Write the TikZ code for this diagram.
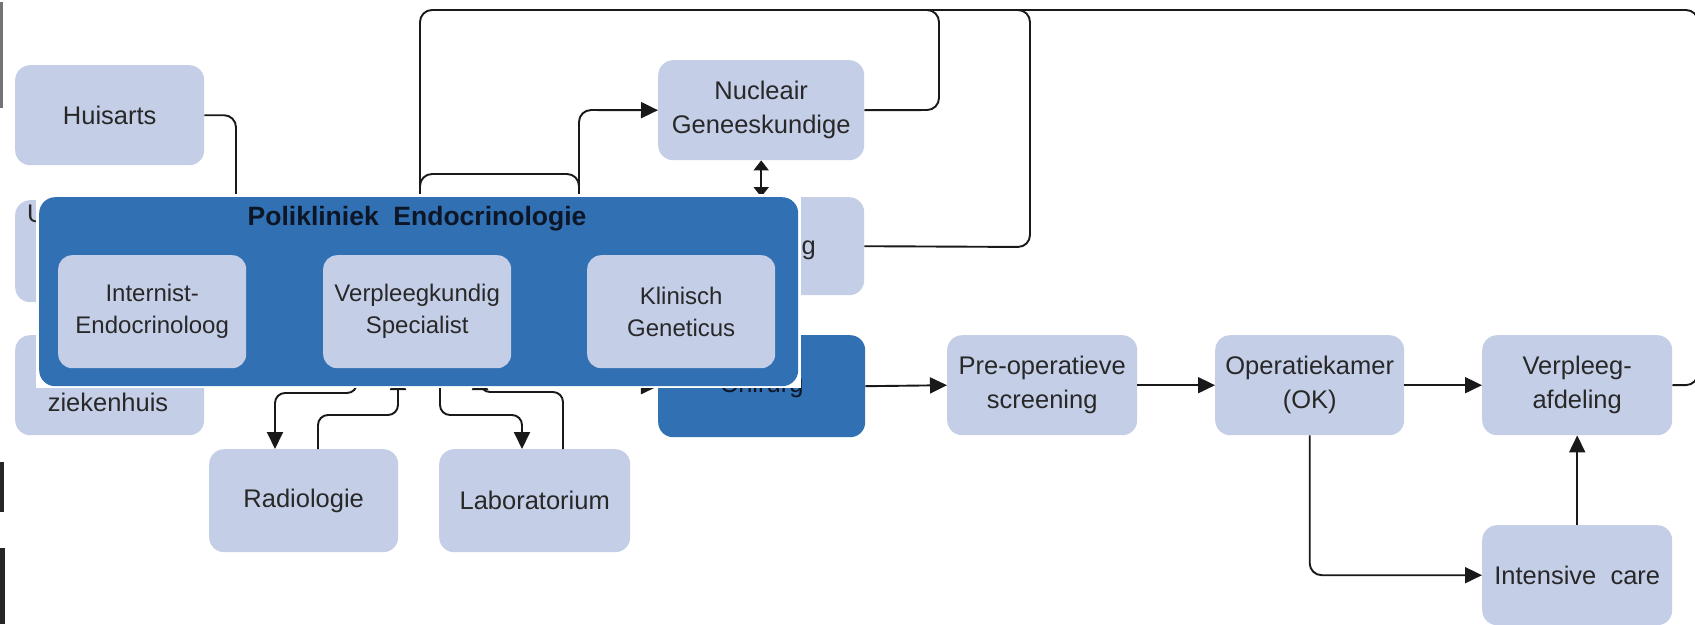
\documentclass[tikz,border=0pt]{standalone}
\usepackage{fontspec}
\setmainfont{Liberation Sans}
\usetikzlibrary{arrows.meta}
\pgfdeclarelayer{fg}
\pgfsetlayers{main,fg}
\definecolor{lightbox}{RGB}{196,206,231}
\definecolor{darkbox}{RGB}{49,112,178}
\definecolor{txt}{RGB}{40,40,40}
\definecolor{titletxt}{RGB}{12,22,38}
\definecolor{wire}{RGB}{25,25,25}
\begin{document}
\begin{tikzpicture}[x=1pt,y=-1pt,
  bsize/.style 2 args={anchor=north west, minimum width=#1pt, minimum height=#2pt, inner sep=0pt},
  lbox/.style={fill=lightbox, rounded corners=15pt, text=txt, align=center, font=\fontsize{25.5}{34}\selectfont},
  ibox/.style={fill=lightbox, rounded corners=14pt, text=txt, align=center, font=\fontsize{24}{32}\selectfont},
  dbox/.style={fill=darkbox, rounded corners=15pt, text=titletxt, align=center, font=\fontsize{25.5}{34}\selectfont},
  frag/.style={inner sep=0pt, text=txt, font=\fontsize{25.5}{34}\selectfont},
  wire/.style={draw=wire, line width=1.9pt, rounded corners=12pt},
  arr/.style={-{Triangle[length=17pt,width=16pt]}},
  darr/.style={{Triangle[length=10pt,width=15pt]}-{Triangle[length=10pt,width=15pt]}}
]
\clip (0,0) rectangle (1695,624);
\fill[white] (0,0) rectangle (1695,624);

% scan fragments at the left edge
\fill[black!55] (0,2) rectangle (3,108);
\fill[black!85] (0,462) rectangle (4,512);
\fill[black!85] (0,548) rectangle (5,624);

% foreground: Polikliniek panel
\begin{pgfonlayer}{fg}
  \fill[white] (36,194) rectangle (801,388);
  \node[fill=darkbox, rounded corners=16pt, bsize={759}{189}] (pk) at (39,197) {};
  \node[anchor=base, inner sep=0pt, text=titletxt, font=\fontsize{26.5}{30}\selectfont\bfseries] (pkt) at (417,225) {Polikliniek\ \ Endocrinologie};
  \node[ibox, bsize={188}{113}] (ie) at (58,255) {Internist-\\Endocrinoloog};
  \node[ibox, bsize={188}{113}] (vs) at (323,255) {Verpleegkundig\\Specialist};
  \node[ibox, bsize={188}{113}] (kg) at (587,255) {Klinisch\\Geneticus};
\end{pgfonlayer}

% outer boxes
\node[lbox, bsize={189}{100}] (hu) at (15,65) {Huisarts};
\node[lbox, bsize={189}{102}] (um) at (15,200) {};
\node[frag, anchor=base west] (umt) at (27,222) {U};
\node[lbox, bsize={189}{100}] (zh) at (15,335) {};
\node[frag, anchor=base] (zht) at (108,411) {ziekenhuis};
\node[lbox, bsize={206}{100}] (ng) at (658,60) {Nucleair\\Geneeskundige};
\node[lbox, bsize={206}{98}] (bh) at (658,197) {};
\node[frag, anchor=base east] (bht) at (816,254) {g};
\node[dbox, bsize={207}{102}] (ch) at (658,335) {Chirurg};
\node[lbox, bsize={190}{100}] (po) at (947,335) {Pre-operatieve\\screening};
\node[lbox, bsize={189}{100}] (ok) at (1215,335) {Operatiekamer\\(OK)};
\node[lbox, bsize={190}{100}] (vp) at (1482,335) {Verpleeg-\\afdeling};
\node[lbox, bsize={190}{100}] (ic) at (1482,525) {Intensive\ \ care};
\node[lbox, bsize={189}{103}] (ra) at (209,449) {Radiologie};
\node[lbox, bsize={191}{103}] (la) at (439,449) {Laboratorium};

% touch points on the Polikliniek panel
\coordinate (pHu) at (236,197);
\coordinate (pTop) at (420,197);
\coordinate (pNg) at (579,197);
\coordinate (pCh) at (620,386);
\coordinate (pRa1) at (357,380);
\coordinate (pRa2) at (398,373);
\coordinate (pLa1) at (440,380);
\coordinate (pLa2) at (480,373);

% connectors above
\draw[wire] (hu.east) -| (pHu);
\draw[wire] (vp.east) -- (1698,385) -- (1698,10) -- (420,10) -- (pTop);
\draw[wire] (ng.east) -- (939,110) -- (939,10) -- (880,10);
\draw[wire] (bh.east) -- (1030,247) -- (1030,10) -- (960,10);
\draw[wire] (pTop) -- (420,174) -- (579,174) -- (pNg);
\draw[wire, arr] (pNg) -- (579,110) -- (ng.west);
\draw[wire, darr] (ng.south) -- (bh.north);

% main row
\draw[wire, arr] (pCh) -- (ch.west);
\draw[wire, arr] (ch.east) -- (po.west);
\draw[wire, arr] (po.east) -- (ok.west);
\draw[wire, arr] (ok.east) -- (vp.west);
\draw[wire, arr] (ok.south) |- (ic.west);
\draw[wire, arr] (ic.north) -- (vp.south);

% connectors below
\draw[wire, arr, rounded corners=10pt] (pRa1) -- (357,393) -| ([xshift=66pt]ra.north west);
\draw[wire, arr, rounded corners=10pt] ([xshift=109pt]ra.north west) |- (398,415) -- (pRa2);
\draw[wire, arr, rounded corners=10pt] (pLa1) |- (522,415) -- ([xshift=83pt]la.north west);
\draw[wire, arr, rounded corners=10pt] ([xshift=124pt]la.north west) |- (480,392) -- (pLa2);
\end{tikzpicture}
\end{document}
